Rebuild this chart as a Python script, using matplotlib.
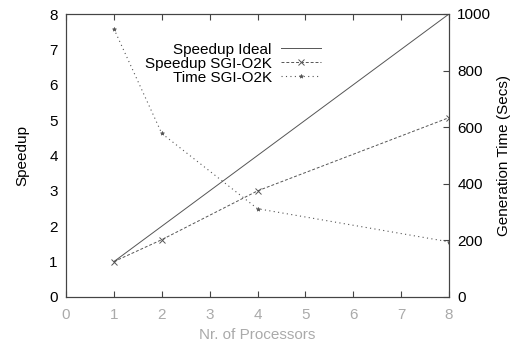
import matplotlib
matplotlib.use("Agg")
import matplotlib.pyplot as plt

procs = [1, 2, 4, 8]
speedup_ideal = [1, 2, 4, 8]
speedup_sgi = [1.0, 1.62, 3.0, 5.07]
time_sgi = [948, 578, 312, 195]

plt.rcParams['font.family'] = ['Liberation Sans', 'DejaVu Sans']

fig = plt.figure(figsize=(5.2, 3.45), dpi=100)
ax = fig.add_axes([66 / 520, 48 / 345, (449 - 66) / 520, (297 - 14) / 345])
ax2 = ax.twinx()

l1, = ax.plot(procs, speedup_ideal, color='#555555', lw=0.7, ls='-',
              label='Speedup Ideal')
l2, = ax.plot(procs, speedup_sgi, color='#555555', lw=0.7, ls=(0, (3, 2)),
              marker='x', ms=4, mew=0.7, label='Speedup SGI-O2K')
l3, = ax2.plot(procs, time_sgi, color='#555555', lw=0.8, ls=(0, (1, 3)),
               marker='*', ms=3, mew=0.5, label='Time SGI-O2K')

ax.set_xlim(0, 8)
ax.set_ylim(0, 8)
ax2.set_ylim(0, 1000)
ax.set_xticks(range(0, 9))
ax.set_yticks(range(0, 9))
ax2.set_yticks(range(0, 1001, 200))

ax.tick_params(axis='x', direction='in', colors='#aaaaaa', labelsize=11,
               top=True, length=4, pad=8)
ax.tick_params(axis='x', which='both', color='#444444')
ax.tick_params(axis='y', direction='in', labelsize=11, length=0, pad=6)
ax2.tick_params(axis='y', direction='in', labelsize=11, length=4, pad=6,
                color='#444444')
for sp in ax.spines.values():
    sp.set_color('#444444')
for sp in ax2.spines.values():
    sp.set_color('#444444')

ax.set_xlabel('Nr. of Processors', color='#aaaaaa', fontsize=11, labelpad=4)
ax.set_ylabel('Speedup', fontsize=11, labelpad=14)
ax2.set_ylabel('Generation Time (Secs)', fontsize=11, labelpad=4)

leg = ax.legend(handles=[l1, l2, l3], loc='upper left',
                bbox_to_anchor=(0.19, 0.92), frameon=False, markerfirst=False,
                fontsize=11, handlelength=2.6, handletextpad=0.6,
                labelspacing=0.0, borderaxespad=0)
for t in leg.get_texts():
    t.set_ha('right')
leg._legend_box.align = 'right'

fig.savefig('out.png', dpi=100)
